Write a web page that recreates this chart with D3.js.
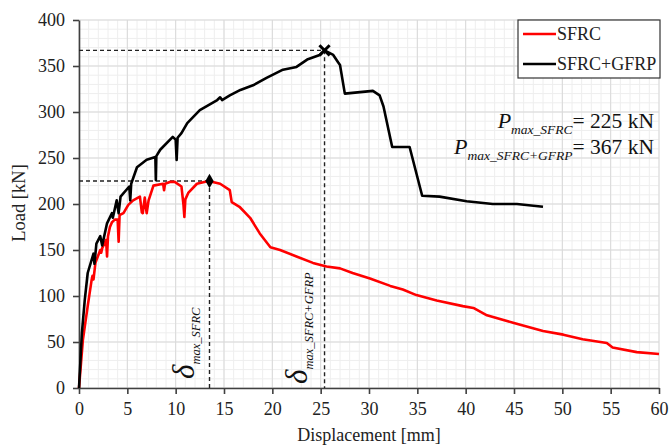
<!DOCTYPE html>
<html>
<head>
<meta charset="utf-8">
<script src="https://cdn.jsdelivr.net/npm/d3@7"></script>
<style>
  body { margin: 0; background: #fff; }
  svg text { font-family: "Liberation Serif", "Times New Roman", serif; }
</style>
</head>
<body>
<div id="chart"></div>
<script>
// displacement [mm], load [kN]
const sfrcDisp = [0, 0.4, 0.9, 1.3, 1.4, 1.5, 1.7, 2.2, 2.3, 2.4, 2.8, 2.9, 3.0, 3.2, 3.4, 3.7, 4.0, 4.1, 4.2, 4.6, 5.1, 5.6, 6.3, 6.5, 6.6, 6.8, 7.0, 7.2, 7.7, 8.7, 8.8, 8.9, 9.4, 9.9, 10.6, 10.8, 10.9, 11.0, 11.3, 12.2, 13.4, 14.6, 15.6, 15.8, 16.6, 17.7, 18.7, 19.8, 20.8, 22.5, 24.2, 25.6, 27.0, 28.3, 30.1, 32.2, 33.5, 34.9, 37.0, 39.7, 40.8, 42.2, 44.9, 48.0, 50.1, 52.1, 54.6, 55.2, 57.7, 60.0]
const sfrcLoad = [0, 52, 89, 117, 122, 118, 136, 150, 147, 152, 161, 143, 165, 175, 180, 183, 183, 159, 188, 190, 199, 204, 208, 191, 190, 207, 190, 204, 220, 222, 215, 222, 224, 224, 219, 200, 186, 205, 212, 222, 225, 222, 215, 202, 197, 185, 168, 153, 150, 143, 136, 132, 130, 125, 119, 111, 107, 101, 95, 89, 87, 79, 71, 62, 58, 53, 49, 44, 39, 37]

const gfrpDisp = [0, 0.3, 0.6, 0.9, 1.5, 1.6, 1.8, 2.2, 2.4, 2.9, 3.4, 3.5, 3.9, 4.1, 4.3, 5.2, 5.3, 5.4, 6.0, 7.0, 7.9, 7.95, 8.0, 8.4, 9.7, 10.0, 10.1, 10.2, 10.6, 11.2, 12.5, 14.3, 14.6, 14.8, 15.6, 16.7, 18.0, 19.4, 21.1, 22.5, 23.6, 24.9, 25.4, 26.3, 26.8, 27.0, 27.5, 30.4, 31.1, 31.5, 32.4, 34.2, 35.5, 37.3, 40.1, 42.8, 45.3, 48.0]
const gfrpLoad = [0, 60, 96, 125, 146, 135, 157, 165, 155, 179, 190, 185, 204, 190, 208, 219, 204, 222, 240, 248, 251, 226, 252, 259, 273, 270, 248, 272, 277, 288, 302, 313, 316, 313, 318, 324, 329, 337, 346, 349, 357, 362, 367, 362, 354, 351, 320, 323, 318, 306, 262, 262, 209, 208, 203, 200, 200, 197]

const xTicks = d3.range(0, 61, 5)
const yTicks = d3.range(0, 401, 50)
const peakSfrc = { d: 13.5, p: 225 }
const peakGfrp = { d: 25.4, p: 367 }

const W = 670, H = 446
const svg = d3.select('#chart').append('svg')
    .attr('width', W)
    .attr('height', H)

const x = d3.scaleLinear().domain([0, 60]).range([79, 659])
const y = d3.scaleLinear().domain([0, 400]).range([388, 20])

// minor grid
svg.append('g').selectAll('line')
    .data(d3.range(0, 61, 1))
    .join('line')
    .attr('x1', d => x(d)).attr('x2', d => x(d))
    .attr('y1', y(0)).attr('y2', y(400))
    .attr('stroke', '#eeeeee').attr('stroke-width', 1)
svg.append('g').selectAll('line')
    .data(d3.range(0, 401, 10))
    .join('line')
    .attr('y1', d => y(d)).attr('y2', d => y(d))
    .attr('x1', x(0)).attr('x2', x(60))
    .attr('stroke', '#eeeeee').attr('stroke-width', 1)
// major grid
svg.append('g').selectAll('line')
    .data(xTicks)
    .join('line')
    .attr('x1', d => x(d)).attr('x2', d => x(d))
    .attr('y1', y(0)).attr('y2', y(400))
    .attr('stroke', '#d9d9d9').attr('stroke-width', 1)
svg.append('g').selectAll('line')
    .data(yTicks)
    .join('line')
    .attr('y1', d => y(d)).attr('y2', d => y(d))
    .attr('x1', x(0)).attr('x2', x(60))
    .attr('stroke', '#d9d9d9').attr('stroke-width', 1)

// axes
const xAxis = svg.append('g')
    .attr('transform', `translate(0,${y(0)})`)
    .call(d3.axisBottom(x).tickValues(xTicks).tickSize(6).tickPadding(6).tickSizeOuter(0))
const yAxis = svg.append('g')
    .attr('transform', `translate(${x(0)},0)`)
    .call(d3.axisLeft(y).tickValues(yTicks).tickSize(6).tickPadding(8).tickSizeOuter(0))
for (const a of [xAxis, yAxis]) {
    a.attr('font-family', null).attr('font-size', null)
    a.selectAll('.domain').attr('stroke', '#404040').attr('stroke-width', 1.6)
    a.selectAll('.tick line').attr('stroke', '#404040').attr('stroke-width', 1.6)
    a.selectAll('.tick text')
        .attr('font-size', '18px')
        .attr('fill', '#222')
}
xAxis.selectAll('.tick text').attr('dy', '0.85em')

// dashed guide lines to the peaks
const guides = svg.append('g')
    .attr('stroke', '#222')
    .attr('stroke-width', 1.4)
    .attr('stroke-dasharray', '4,3')
    .attr('fill', 'none')
for (const pk of [peakSfrc, peakGfrp]) {
    guides.append('line')
        .attr('x1', x(0)).attr('x2', x(pk.d))
        .attr('y1', y(pk.p)).attr('y2', y(pk.p))
    guides.append('line')
        .attr('x1', x(pk.d)).attr('x2', x(pk.d))
        .attr('y1', y(pk.p)).attr('y2', y(0))
}

const line = d3.line().x(d => x(d[0])).y(d => y(d[1]))

svg.append('path')
    .datum(d3.zip(sfrcDisp, sfrcLoad))
    .attr('d', line)
    .attr('fill', 'none')
    .attr('stroke', '#ff0000')
    .attr('stroke-width', 2.6)
    .attr('stroke-linejoin', 'round')

svg.append('path')
    .datum(d3.zip(gfrpDisp, gfrpLoad))
    .attr('d', line)
    .attr('fill', 'none')
    .attr('stroke', '#000')
    .attr('stroke-width', 2.6)
    .attr('stroke-linejoin', 'round')

// peak markers
svg.append('path')
    .attr('d', d3.symbol(d3.symbolDiamond, 60)())
    .attr('transform', `translate(${x(peakSfrc.d)},${y(peakSfrc.p)})`)
    .attr('fill', '#000')
svg.append('path')
    .attr('d', d3.symbol(d3.symbolX, 70)())
    .attr('transform', `translate(${x(peakGfrp.d)},${y(peakGfrp.p)})`)
    .attr('stroke', '#000')
    .attr('stroke-width', 3)

// delta labels (rotated)
function deltaLabel(px, py, sub) {
    const t = svg.append('text')
        .attr('transform', `translate(${px},${py}) rotate(-90)`)
        .attr('fill', '#111')
    t.append('tspan')
        .attr('font-style', 'italic')
        .attr('font-size', '31px')
        .text('δ')
    t.append('tspan')
        .attr('font-style', 'italic')
        .attr('font-size', '12.5px')
        .attr('dy', 6)
        .text(sub)
}
deltaLabel(x(peakSfrc.d) - 16, 379, 'max_SFRC')
deltaLabel(x(peakGfrp.d) - 18, 384, 'max_SFRC+GFRP')

// P max labels
function pLabel(py, sub, val) {
    const t = svg.append('text')
        .attr('x', 654)
        .attr('y', py)
        .attr('text-anchor', 'end')
        .attr('fill', '#111')
    t.append('tspan').attr('font-style', 'italic').attr('font-size', '22px').text('P')
    t.append('tspan').attr('font-style', 'italic').attr('font-size', '13.5px').attr('dy', 6).text(sub)
    t.append('tspan').attr('font-size', '21.5px').attr('dy', -6).text('= ' + val + ' kN')
}
pLabel(128, 'max_SFRC', 225)
pLabel(154, 'max_SFRC+GFRP', 367)

// axis titles
svg.append('text')
    .attr('x', x(30))
    .attr('y', 441)
    .attr('text-anchor', 'middle')
    .attr('font-size', '18px')
    .attr('fill', '#222')
    .text('Displacement [mm]')
svg.append('text')
    .attr('transform', `translate(25,203) rotate(-90)`)
    .attr('text-anchor', 'middle')
    .attr('font-size', '18.5px')
    .attr('fill', '#222')
    .text('Load [kN]')

// legend
const series = [
    { name: 'SFRC', color: '#ff0000' },
    { name: 'SFRC+GFRP', color: '#000' }
]
const lg = svg.append('g').attr('transform', 'translate(518,20)')
lg.append('rect')
    .attr('width', 142).attr('height', 58)
    .attr('fill', '#fff')
    .attr('stroke', '#333').attr('stroke-width', 1.2)
lg.selectAll('g')
    .data(series)
    .join('g')
    .attr('transform', (d, i) => `translate(0,${14 + i * 30})`)
    .each(function (d) {
        const g = d3.select(this)
        g.append('line')
            .attr('x1', 5).attr('x2', 38)
            .attr('stroke', d.color).attr('stroke-width', 2.6)
        g.append('text')
            .attr('x', 39).attr('y', 6)
            .attr('font-size', '18px')
            .attr('fill', '#222')
            .text(d.name)
    })
</script>
</body>
</html>
